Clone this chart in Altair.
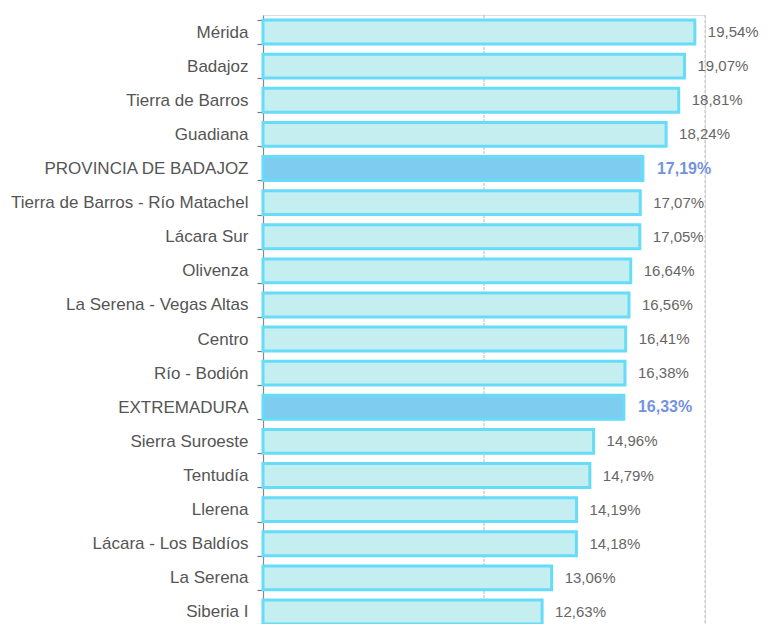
import altair as alt
import pandas as pd

regions = [
    "Mérida", "Badajoz", "Tierra de Barros", "Guadiana", "PROVINCIA DE BADAJOZ",
    "Tierra de Barros - Río Matachel", "Lácara Sur", "Olivenza",
    "La Serena - Vegas Altas", "Centro", "Río - Bodión", "EXTREMADURA",
    "Sierra Suroeste", "Tentudía", "Llerena", "Lácara - Los Baldíos",
    "La Serena", "Siberia I",
]
values = [
    19.54, 19.07, 18.81, 18.24, 17.19, 17.07, 17.05, 16.64, 16.56,
    16.41, 16.38, 16.33, 14.96, 14.79, 14.19, 14.18, 13.06, 12.63,
]
highlighted = ["PROVINCIA DE BADAJOZ", "EXTREMADURA"]
grid_major = [10]
grid_end = [20]

df = pd.DataFrame({"region": regions, "value": values})

FONT = "Liberation Sans"
is_hl = alt.FieldOneOfPredicate(field="region", oneOf=highlighted)

y_scale = alt.Scale(paddingInner=0.3, paddingOuter=0.15, range=[0, 614])
y_enc = alt.Y(
    "region:N",
    sort=regions,
    title=None,
    scale=y_scale,
    axis=alt.Axis(
        labelFont=FONT, labelFontSize=17, labelColor="#555555", labelLimit=400,
        labelPadding=9, tickSize=6, tickColor="#777777", tickWidth=1.2,
        domainColor="#888888", domainWidth=1.2, tickBand="extent", grid=False,
    ),
)
x_scale = alt.Scale(domain=[0, 20], nice=False, zero=True)

base = alt.Chart(df)

rule10 = alt.Chart(pd.DataFrame({"v": grid_major})).mark_rule(
    color="#b8b8b8", strokeWidth=1, strokeDash=[3, 1]
).encode(x=alt.X("v:Q", scale=x_scale, axis=None))

rule20 = alt.Chart(pd.DataFrame({"v": grid_end})).mark_rule(
    color="#c4c4c4", strokeWidth=1, strokeDash=[3, 2]
).encode(x=alt.X("v:Q", scale=x_scale, axis=None))

bars = base.mark_bar(strokeWidth=3, stroke="#66dcf8").encode(
    y=y_enc,
    x=alt.X("value:Q", scale=x_scale, axis=None),
    color=alt.condition(is_hl, alt.value("#7ecdf0"), alt.value("#c5eef0")),
)

label_expr = "replace(format(datum.value, '.2f'), '.', ',') + '%'"

text_norm = base.transform_filter(~is_hl).transform_calculate(
    lbl=label_expr
).mark_text(
    align="left", baseline="middle", dx=13, font=FONT, fontSize=15, color="#666666"
).encode(
    y=alt.Y("region:N", sort=regions),
    x=alt.X("value:Q", scale=x_scale, axis=None),
    text="lbl:N",
)

text_hl = base.transform_filter(is_hl).transform_calculate(
    lbl=label_expr
).mark_text(
    align="left", baseline="middle", dx=14, font=FONT, fontSize=16,
    fontWeight="bold", color="#7393e0"
).encode(
    y=alt.Y("region:N", sort=regions),
    x=alt.X("value:Q", scale=x_scale, axis=None),
    text="lbl:N",
)

chart = alt.layer(rule10, rule20, bars, text_norm, text_hl).properties(
    width=442,
    height=609,
    autosize=alt.AutoSizeParams(type="none"),
    padding={"left": 255, "top": 7, "right": 55, "bottom": 0},
).configure_view(stroke=None).configure(background="white")

chart.save("out.html", embed_options={"renderer": "svg", "actions": False})
